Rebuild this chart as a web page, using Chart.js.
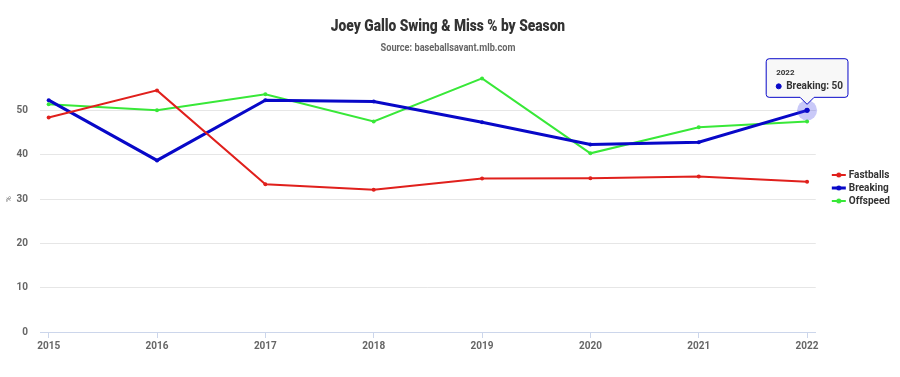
<!DOCTYPE html>
<html><head><meta charset="utf-8">
<script src="https://cdn.jsdelivr.net/npm/chart.js@4"></script>
<style>html,body{margin:0;padding:0;background:#fff}#wrap{width:900px;height:377px}</style>
</head><body><div id="wrap"><canvas id="c" width="900" height="377"></canvas></div>
<script>
const seasons = [2015, 2016, 2017, 2018, 2019, 2020, 2021, 2022];
const fastballs = [48.4, 54.5, 33.3, 32.1, 34.6, 34.7, 35.1, 33.9];
const breaking = [52.3, 38.7, 52.3, 52.0, 47.3, 42.3, 42.8, 50];
const offspeed = [51.4, 50.0, 53.6, 47.5, 57.2, 40.3, 46.2, 47.5];
const yTicks = [0, 10, 20, 30, 40, 50];
const titleText = 'Joey Gallo Swing & Miss % by Season';
const subtitleText = 'Source: baseballsavant.mlb.com';

const FONT = "Roboto, 'Liberation Sans', sans-serif";

function sym(color, lw) {
  const cv = document.createElement('canvas');
  cv.width = 16; cv.height = 8;
  const g = cv.getContext('2d');
  g.strokeStyle = color; g.lineWidth = lw;
  g.beginPath(); g.moveTo(1, 4); g.lineTo(15, 4); g.stroke();
  g.fillStyle = color; g.beginPath(); g.arc(8, 4, 2.5, 0, Math.PI * 2); g.fill();
  return cv;
}
const RED = '#e0201c', BLUE = '#0808c8', GREEN = '#38e838';
const symbols = [sym(RED, 2), sym(BLUE, 3), sym(GREEN, 2)];
function pts(arr) { return seasons.map((s, i) => ({ x: s, y: arr[i] })); }

const EXTRA = 15;
const LEGEND_SHIFT = -22;
const legendGap = {
  id: 'legendGap',
  afterInit(chart) {
    const lg = chart.legend;
    if (lg && !lg._patched) {
      const orig = lg.fit;
      lg.fit = function () { orig.call(this); this.width += EXTRA; };
      lg._patched = true;
    }
  },
  afterLayout(chart) {
    const lg = chart.legend;
    if (lg) {
      lg.left += EXTRA; lg.right += EXTRA;
      lg.top += LEGEND_SHIFT; lg.bottom += LEGEND_SHIFT;
      if (lg.adjustHitBoxes) lg.adjustHitBoxes();
    }
  }
};

const titles = {
  id: 'titles',
  afterDraw(chart) {
    const ctx = chart.ctx;
    const cx = 448;
    ctx.save();
    ctx.textAlign = 'center';
    ctx.textBaseline = 'middle';
    ctx.fillStyle = '#333';
    ctx.font = "900 16px " + FONT;
    ctx.translate(cx, 27); ctx.scale(0.86, 1);
    ctx.fillText(titleText, 0, 0);
    ctx.restore();
    ctx.save();
    ctx.textAlign = 'center';
    ctx.textBaseline = 'middle';
    ctx.fillStyle = '#666';
    ctx.font = "bold 10px " + FONT;
    ctx.translate(cx, 48); ctx.scale(0.92, 1);
    ctx.fillText(subtitleText, 0, 0);
    ctx.restore();
  }
};

const halo = {
  id: 'halo',
  afterDatasetsDraw(chart) {
    const act = chart.getActiveElements();
    const ctx = chart.ctx;
    act.forEach(a => {
      const el = chart.getDatasetMeta(a.datasetIndex).data[a.index];
      ctx.save();
      ctx.fillStyle = 'rgba(60,60,230,0.28)';
      ctx.beginPath(); ctx.arc(el.x, el.y, 10, 0, Math.PI * 2); ctx.fill();
      ctx.fillStyle = BLUE;
      ctx.beginPath(); ctx.arc(el.x, el.y, 2.5, 0, Math.PI * 2); ctx.fill();
      ctx.restore();
    });
  }
};

const chart = new Chart(document.getElementById('c'), {
  type: 'line',
  data: {
    datasets: [
      { label: 'Fastballs', data: pts(fastballs), borderColor: RED, backgroundColor: RED, borderWidth: 2, pointRadius: 2, pointBorderWidth: 0, pointHoverRadius: 2 },
      { label: 'Breaking', data: pts(breaking), borderColor: BLUE, backgroundColor: BLUE, borderWidth: 3, pointRadius: 2, pointBorderWidth: 0, pointHoverRadius: 2 },
      { label: 'Offspeed', data: pts(offspeed), borderColor: GREEN, backgroundColor: GREEN, borderWidth: 2, pointRadius: 2, pointBorderWidth: 0, pointHoverRadius: 2 }
    ]
  },
  options: {
    responsive: false,
    animation: false,
    events: [],
    layout: { padding: { left: 2, right: 0, top: 66, bottom: 23 } },
    elements: { line: { tension: 0 }, point: { pointStyle: 'circle' } },
    scales: {
      x: {
        type: 'linear', min: 2014.92, max: 2022.08,
        afterBuildTicks(s) { s.ticks = seasons.map(v => ({ value: v })); },
        ticks: { color: '#666', font: { family: FONT, size: 10, weight: 'bold' }, padding: 2, maxRotation: 0, callback: v => String(v) },
        grid: { display: true, drawOnChartArea: false, drawTicks: true, tickLength: 6, color: '#ccd6eb' },
        border: { display: true, color: '#ccd6eb' }
      },
      y: {
        min: 0, max: 60,
        afterBuildTicks(s) { s.ticks = yTicks.concat([60]).map(v => ({ value: v })); },
        afterFit(s) { s.width = 38; },
        ticks: { color: '#666', font: { family: FONT, size: 10, weight: 'bold' }, padding: 12, callback: v => v === 60 ? '' : String(v) },
        grid: { color: ctx => (ctx.tick && ctx.tick.value === 60) ? 'rgba(0,0,0,0)' : '#e6e6e6', drawTicks: false },
        border: { display: false },
        title: { display: true, text: '%', color: '#666', font: { family: FONT, size: 8 }, padding: { top: 2, bottom: 4 } }
      }
    },
    plugins: {
      title: { display: false },
      subtitle: { display: false },
      legend: {
        position: 'right', align: 'center',
        labels: {
          usePointStyle: true, color: '#333', font: { family: FONT, size: 10, weight: 'bold' }, padding: 3, boxWidth: 16, boxHeight: 8,
          generateLabels(chart) {
            const items = Chart.defaults.plugins.legend.labels.generateLabels(chart);
            items.forEach((it, i) => { it.pointStyle = symbols[i]; });
            return items;
          }
        }
      },
      tooltip: {
        enabled: true, mode: 'nearest', intersect: true,
        yAlign: 'bottom', xAlign: 'center',
        backgroundColor: 'rgba(247,247,247,0.9)', borderColor: BLUE, borderWidth: 1, cornerRadius: 3,
        titleColor: '#333', titleFont: { family: FONT, size: 8, weight: 'bold' }, titleMarginBottom: 3,
        bodyColor: '#333', bodyFont: { family: FONT, size: 10, weight: 'bold' },
        padding: { top: 9, bottom: 5, left: 10, right: 5 }, caretSize: 7, caretPadding: 6,
        usePointStyle: true, boxWidth: 5, boxHeight: 5, boxPadding: 3, displayColors: true,
        callbacks: {
          title: items => String(items[0].raw.x),
          label: item => item.dataset.label + ': ' + item.raw.y,
          labelPointStyle: () => ({ pointStyle: 'circle', rotation: 0 }),
          labelColor: () => ({ borderColor: BLUE, backgroundColor: BLUE, borderWidth: 0 })
        }
      }
    }
  },
  plugins: [legendGap, halo, titles]
});
const el = chart.getDatasetMeta(1).data[7];
chart.setActiveElements([{ datasetIndex: 1, index: 7 }]);
chart.tooltip.setActiveElements([{ datasetIndex: 1, index: 7 }], { x: el.x, y: el.y });
chart.update();
</script></body></html>
